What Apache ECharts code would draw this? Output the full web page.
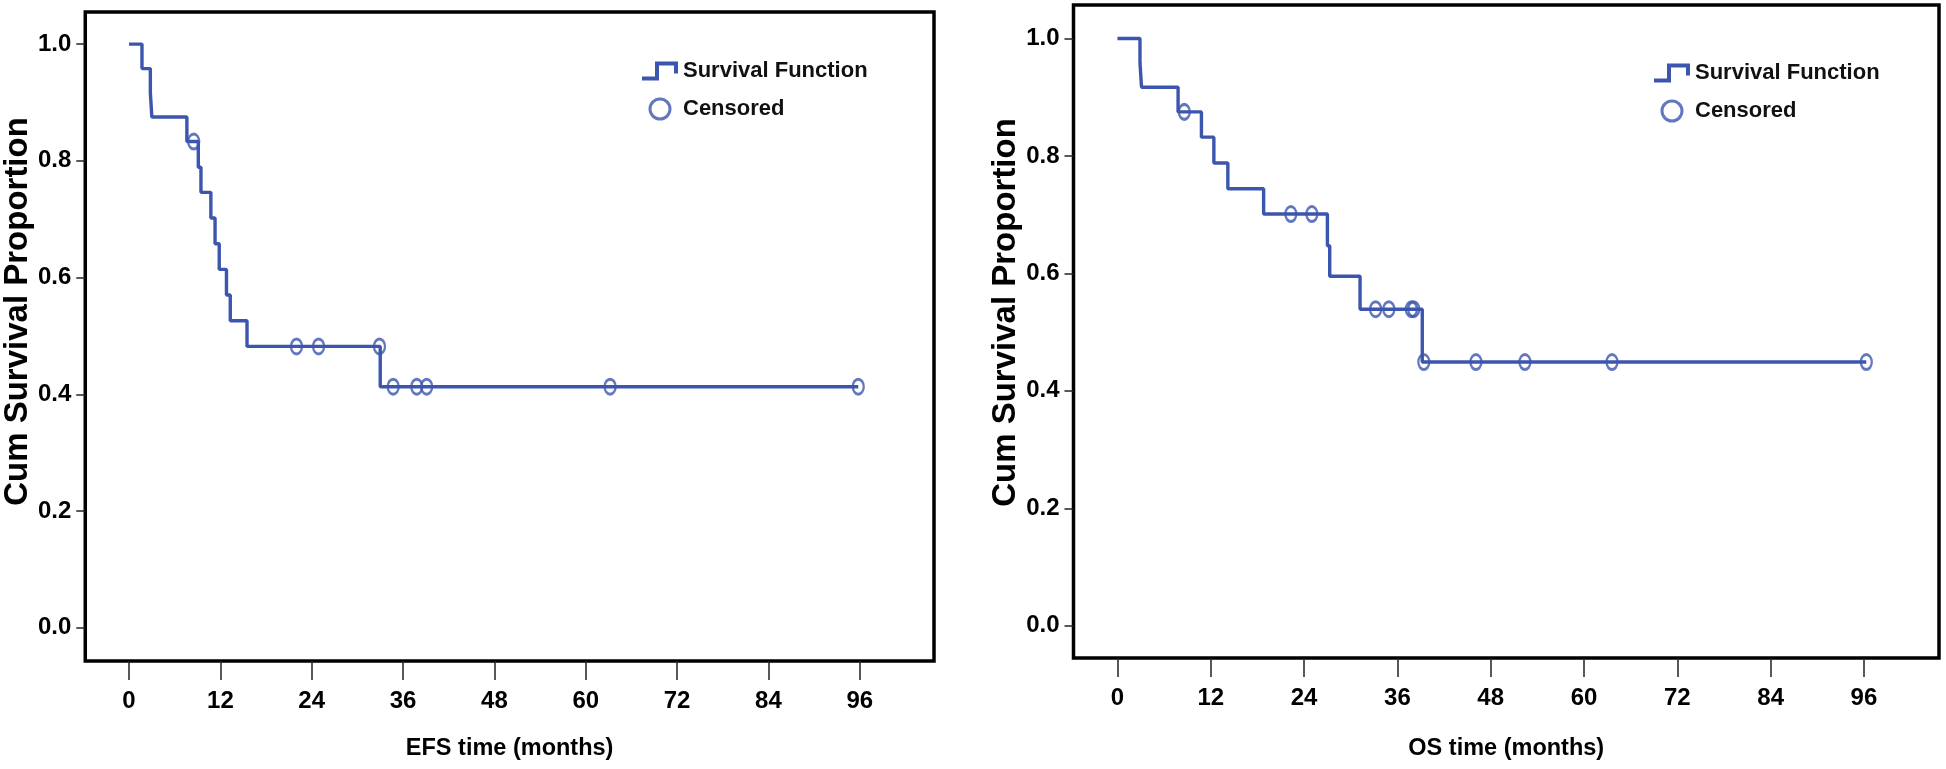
<!DOCTYPE html>
<html>
<head>
<meta charset="utf-8">
<script src="https://cdn.jsdelivr.net/npm/echarts@6/dist/echarts.min.js"></script>
<style>
html,body{margin:0;padding:0;background:#fff;}
#chart{width:1946px;height:769px;}
</style>
</head>
<body>
<div id="chart"></div>
<script>
// ---- EFS (left panel) ----
const efsTimes = [0, 1.7, 2.8, 3.0, 7.6, 9.1, 9.45, 10.75, 11.3, 11.85, 12.8, 13.3, 15.5, 33.0];
const efsSurv  = [1.0, 0.958, 0.917, 0.875, 0.833, 0.789, 0.746, 0.702, 0.658, 0.614, 0.570, 0.526, 0.482, 0.413];
const efsEnd = 95.8;
const efsCensTimes = [8.5, 22.0, 24.9, 32.9, 34.7, 37.8, 39.1, 63.2, 95.8];
const efsCensSurv  = [0.833, 0.482, 0.482, 0.482, 0.413, 0.413, 0.413, 0.413, 0.413];

// ---- OS (right panel) ----
const osTimes = [0, 2.9, 3.1, 7.8, 10.8, 12.4, 14.2, 18.8, 27.0, 27.3, 31.2, 39.2];
const osSurv  = [1.0, 0.958, 0.917, 0.875, 0.832, 0.788, 0.744, 0.701, 0.647, 0.595, 0.539, 0.449];
const osEnd = 96.3;
const osCensTimes = [8.6, 22.3, 25.0, 33.2, 34.9, 37.8, 38.1, 39.4, 46.1, 52.4, 63.6, 96.3];
const osCensSurv  = [0.875, 0.701, 0.701, 0.539, 0.539, 0.539, 0.539, 0.449, 0.449, 0.449, 0.449, 0.449];

// ---- ticks / labels ----
const xTicks = [0, 12, 24, 36, 48, 60, 72, 84, 96];
const yTicks = [0, 0.2, 0.4, 0.6, 0.8, 1.0];
const xTitles = ['EFS time (months)', 'OS time (months)'];
const yTitle = 'Cum Survival Proportion';
const legendNames = ['Survival Function', 'Censored'];

const BLUE = '#3c55ae';
const SANS = "'Liberation Sans', Arial, sans-serif";
const ELLIPSE = 'path://M0,-1 C0.552,-1 1,-0.552 1,0 C1,0.552 0.552,1 0,1 C-0.552,1 -1,0.552 -1,0 C-1,-0.552 -0.552,-1 0,-1 Z';
const STEP_ICON = 'path://M0,15 L13,15 L13,0 L36,0 L36,12 L32,12 L32,4 L17,4 L17,19 L0,19 Z';

function stepData(times, surv, end) {
  const d = times.map((t, i) => [t, surv[i]]);
  d.push([end, surv[surv.length - 1]]);
  return d;
}
function pairs(a, b) { return a.map((t, i) => [t, b[i]]); }

const grids = [
  {left: 83, top: 12, width: 851, height: 649},
  {left: 1073.5, top: 5, width: 865.5, height: 653}
];
const xRanges = [[-5.75, 105.75], [-5.65, 105.65]];
const yRanges = [[-0.057, 1.055], [-0.055, 1.057]];
const yNamePad = [50, 38];
const xNameGap = [76, 79];

const option = {
  animation: false,
  backgroundColor: '#fff',
  grid: grids.map(g => Object.assign({show: true, borderColor: '#000', borderWidth: 3.5, backgroundColor: '#fff', containLabel: false}, g)),
  xAxis: [0, 1].map(i => ({
    type: 'value', gridIndex: i, min: xRanges[i][0], max: xRanges[i][1],
    axisLine: {show: false, onZero: false},
    splitLine: {show: false},
    axisTick: {show: true, customValues: xTicks, length: 19, lineStyle: {color: '#222', width: 1.5}},
    axisLabel: {customValues: xTicks, margin: 28, color: '#000', fontFamily: SANS, fontWeight: 'bold', fontSize: 24},
    name: xTitles[i], nameLocation: 'middle', nameGap: xNameGap[i],
    nameTextStyle: {color: '#000', fontFamily: SANS, fontWeight: 'bold', fontSize: 23.5}
  })),
  yAxis: [0, 1].map(i => ({
    type: 'value', gridIndex: i, min: yRanges[i][0], max: yRanges[i][1],
    axisLine: {show: false, onZero: false},
    splitLine: {show: false},
    axisTick: {show: true, customValues: yTicks, length: 9, lineStyle: {color: '#222', width: 1.5}},
    axisLabel: {customValues: yTicks, margin: 14, color: '#000', fontFamily: SANS, fontWeight: 'bold', fontSize: 24,
      formatter: v => v.toFixed(1)},
    name: yTitle, nameLocation: 'middle', nameGap: 48,
    nameTextStyle: {color: '#000', fontFamily: SANS, fontWeight: 'bold', fontSize: 33, padding: [0, 0, 0, yNamePad[i]]}
  })),
  legend: [
    {left: 637, top: 54},
    {left: 1649, top: 56}
  ].map(p => Object.assign({
    orient: 'vertical', itemWidth: 36, itemHeight: 20, itemGap: 14,
    selectedMode: false,
    textStyle: {color: '#111', fontFamily: SANS, fontWeight: 'bold', fontSize: 22, lineHeight: 24},
    data: [
      {name: legendNames[0], icon: STEP_ICON, itemStyle: {color: BLUE, borderWidth: 0}},
      {name: legendNames[1], icon: ELLIPSE, itemStyle: {color: 'rgba(0,0,0,0)', borderColor: BLUE, borderWidth: 3}}
    ]
  }, p)),
  series: [
    {name: legendNames[0], type: 'line', step: 'end', xAxisIndex: 0, yAxisIndex: 0,
     data: stepData(efsTimes, efsSurv, efsEnd), showSymbol: false, symbol: 'none',
     lineStyle: {color: BLUE, width: 3.4}, itemStyle: {color: BLUE}, z: 2},
    {name: legendNames[1], type: 'scatter', xAxisIndex: 0, yAxisIndex: 0,
     data: pairs(efsCensTimes, efsCensSurv), symbol: ELLIPSE, symbolSize: [11, 15],
     itemStyle: {color: 'rgba(0,0,0,0)', borderColor: BLUE, borderWidth: 2.6}, z: 3},
    {name: legendNames[0], type: 'line', step: 'end', xAxisIndex: 1, yAxisIndex: 1,
     data: stepData(osTimes, osSurv, osEnd), showSymbol: false, symbol: 'none',
     lineStyle: {color: BLUE, width: 3.4}, itemStyle: {color: BLUE}, z: 2},
    {name: legendNames[1], type: 'scatter', xAxisIndex: 1, yAxisIndex: 1,
     data: pairs(osCensTimes, osCensSurv), symbol: ELLIPSE, symbolSize: [11, 15],
     itemStyle: {color: 'rgba(0,0,0,0)', borderColor: BLUE, borderWidth: 2.6}, z: 3}
  ]
};

const chart = echarts.init(document.getElementById('chart'), null, {renderer: 'canvas'});
chart.setOption(option);
</script>
</body>
</html>
